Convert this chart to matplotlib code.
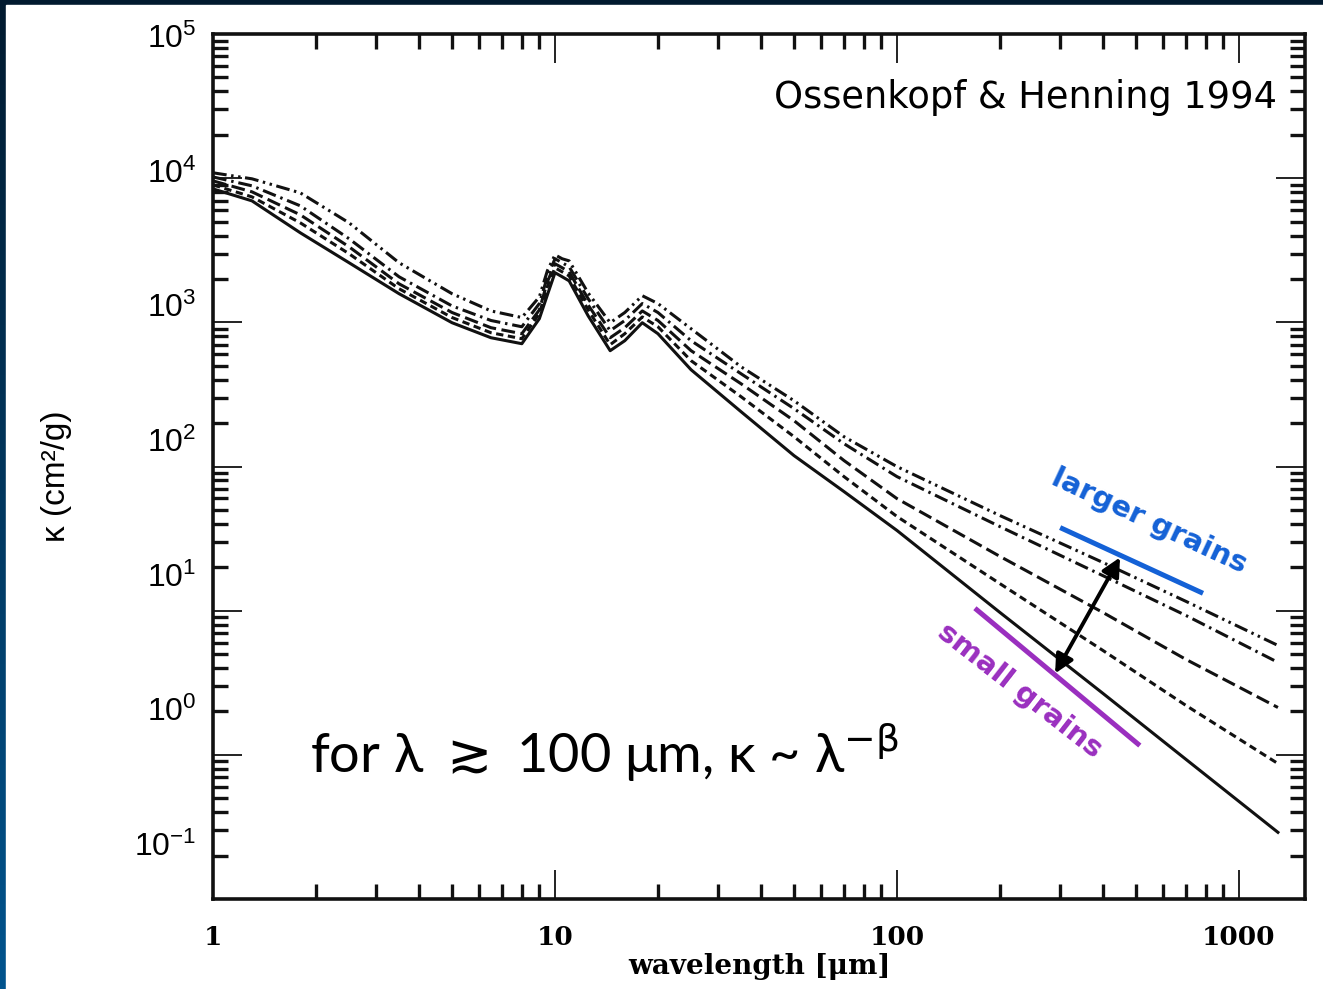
import numpy as np
import matplotlib
matplotlib.use('Agg')
import matplotlib.pyplot as plt
from matplotlib.ticker import LogLocator, NullFormatter
from matplotlib.patches import Rectangle
from matplotlib.colors import LinearSegmentedColormap

wavelength = [1, 1.3, 1.8, 2.5, 3.5, 5, 6.5, 8, 9, 9.5, 10, 10.5, 11, 12.5, 14.5, 16, 18,
              20, 25, 35, 50, 70, 100, 200, 400, 700, 1300]
kappa_a = [10900, 9900, 7910, 4900, 2590, 1580, 1200, 1080, 1500, 2280, 2940, 2760, 2670, 1600,
           994, 1170, 1530, 1350, 903, 492, 286, 161, 99.8, 45.7, 21.6, 11.6, 5.74]
kappa_b = [10200, 8850, 6430, 3800, 2070, 1300, 1030, 932, 1350, 2070, 2760, 2590, 2430, 1460,
           875, 1030, 1350, 1170, 746, 440, 252, 144, 85.1, 38.3, 17.5, 9.26, 4.38]
kappa_c = [9580, 8040, 5570, 3340, 1850, 1170, 918, 834, 1220, 1910, 2550, 2390, 2240, 1320,
           782, 918, 1200, 1030, 636, 375, 208, 110, 59.9, 23.8, 9.72, 4.59, 2.13]
kappa_d = [8990, 7420, 4900, 2990, 1710, 1080, 847, 770, 1150, 1770, 2390, 2240, 2100, 1220,
           700, 834, 1090, 932, 542, 305, 161, 85.1, 45.0, 15.4, 5.30, 2.20, 0.87]
kappa_e = [8430, 6960, 4180, 2590, 1580, 994, 782, 711, 1060, 1550, 2210, 2070, 1940, 1110,
           636, 746, 994, 834, 469, 240, 119, 67.0, 36.0, 9.72, 2.67, 0.93, 0.29]

x_ticks = [1, 10, 100, 1000]
x_ticklabels = ['1', '10', '100', '1000']
y_label_powers = [5, 4, 3, 2, 1, 0, -1]

# annotation endpoints (wavelength, kappa)
large_line = ([300, 785], [37.7, 13.2])
small_line = ([169, 513], [10.4, 1.16])
arrow_top = (449, 23.4)
arrow_bottom = (290, 3.67)

blue = '#1461d6'
purple = '#9a2fbf'

fig = plt.figure(figsize=(13.23, 9.89), dpi=100)

# slide background: dark blue gradient border, white page
bg = fig.add_axes([0, 0, 1, 1], zorder=-10)
grad = np.linspace(0, 1, 256).reshape(-1, 1)
cmap = LinearSegmentedColormap.from_list('slide', ['#011a2f', '#02548e'])
bg.imshow(grad, cmap=cmap, aspect='auto', extent=[0, 1, 0, 1], origin='upper')
bg.add_patch(Rectangle((6 / 1323, 0), 1, 1 - 5 / 989, color='white', transform=bg.transAxes))
bg.set_xlim(0, 1)
bg.set_ylim(0, 1)
bg.axis('off')

ax = fig.add_axes([0.161, 0.091, 0.8254, 0.8746])
ax.set_xscale('log')
ax.set_yscale('log')
ax.set_xlim(1, 1560)
ax.set_ylim(0.1, 1e5)

styles = ['-', (0, (2.4, 1.5)), (0, (4.5, 1.8)), (0, (4.5, 1.6, 0.8, 1.6)),
          (0, (4.5, 1.5, 0.8, 1.5, 0.8, 1.5))]
curves = [kappa_e, kappa_d, kappa_c, kappa_b, kappa_a]
for k, ls in zip(curves, styles):
    ax.plot(wavelength, k, color='#111111', lw=2.2, linestyle=ls)

# secondary axis only carries the overlaid slide tick labels
ax2 = ax.twinx()
ax2.set_yscale('log')
ax2.set_ylim(10 ** -1.41, 10 ** 5.015)
ax2.yaxis.tick_left()
ax2.set_yticks([10.0 ** p for p in y_label_powers])
ax2.set_yticklabels([r'$\mathregular{10^{%d}}$' % p for p in y_label_powers],
                    fontfamily='Liberation Sans', fontsize=23)
ax2.yaxis.set_minor_locator(LogLocator(subs=[]))
ax2.yaxis.set_minor_formatter(NullFormatter())
ax2.tick_params(axis='y', length=0, pad=12)
for s in ax2.spines.values():
    s.set_visible(False)

ax.set_xticks(x_ticks)
ax.set_xticklabels(x_ticklabels, fontfamily='DejaVu Serif', fontweight='bold', fontsize=19)
ax.xaxis.set_minor_locator(LogLocator(subs=np.arange(2, 10)))
ax.xaxis.set_minor_formatter(NullFormatter())
ax.yaxis.set_major_locator(LogLocator(numticks=20))
ax.yaxis.set_minor_locator(LogLocator(subs=np.arange(2, 10), numticks=20))
ax.yaxis.set_major_formatter(NullFormatter())
ax.yaxis.set_minor_formatter(NullFormatter())
ax.tick_params(which='both', direction='in', top=True, right=True, left=True, bottom=True)
ax.tick_params(which='major', length=21, width=1.3, color='#111111')
ax.tick_params(which='minor', length=11, width=2.4, color='#111111')
ax.tick_params(axis='x', which='major', pad=19)
for s in ax.spines.values():
    s.set_linewidth(2.6)
    s.set_color('#111111')

ax.set_xlabel('wavelength [μm]', fontfamily='DejaVu Serif', fontweight='bold', fontsize=20, labelpad=2)
ax.set_ylabel('κ (cm²/g)', fontfamily='Liberation Sans', fontsize=24)
ax.yaxis.set_label_coords(-0.129, 0.489)

ax.text(0.974, 0.927, 'Ossenkopf & Henning 1994', transform=ax.transAxes, ha='right', va='center',
        fontsize=26.5, family='DejaVu Sans')
ax.text(0.0888, 0.17, r'for λ $\gtrsim$ 100 μm, κ ~ λ$^{-\mathrm{\beta}}$', transform=ax.transAxes,
        ha='left', va='center', fontsize=39, family=['Lato', 'DejaVu Sans'])

ax.plot(*large_line, color=blue, lw=3.6, solid_capstyle='butt')
ax.plot(*small_line, color=purple, lw=3.6, solid_capstyle='butt')
ax.annotate('', xy=arrow_top, xytext=arrow_bottom,
            arrowprops=dict(arrowstyle='<|-|>', color='black', lw=2.8, mutation_scale=28,
                            shrinkA=0, shrinkB=0))
ax.text(548, 42, 'larger grains', rotation=-25, rotation_mode='anchor', color=blue,
        fontsize=21, fontweight='bold', ha='center', va='center', family='DejaVu Sans')
ax.text(228, 2.8, 'small grains', rotation=-38, rotation_mode='anchor', color=purple,
        fontsize=21, fontweight='bold', ha='center', va='center', family='DejaVu Sans')

fig.savefig('out.png', dpi=100)
